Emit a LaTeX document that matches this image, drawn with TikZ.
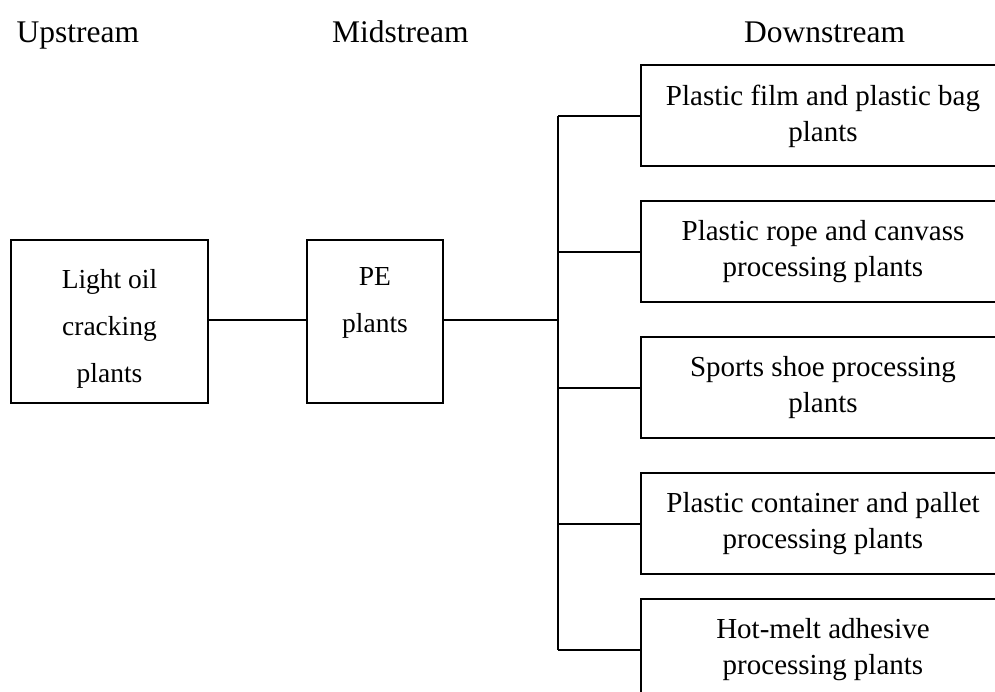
\documentclass[tikz,border=0pt]{standalone}
\usepackage{fontspec}
\setmainfont{Liberation Serif}
\begin{document}
\begin{tikzpicture}[x=1pt,y=-1pt,
  box/.style={draw,line width=2pt,rectangle,inner sep=0pt,align=center},
  leftbox/.style={box,minimum height=163pt},
  lefttext/.style={inner sep=0pt,align=center,font=\fontsize{27.5}{47}\selectfont},
  rightbox/.style={box,minimum width=364pt,minimum height=101pt,font=\fontsize{29}{36}\selectfont},
  head/.style={anchor=base west,font=\fontsize{31.5}{36}\selectfont,inner sep=0pt},
  conn/.style={line width=2pt}]
\path[use as bounding box] (0,0) rectangle (995,692);
\begin{scope}
\clip (0,0) rectangle (995,692);
\node[head] (up) at (16.5,43) {Upstream};
\node[head] (mid) at (332,43) {Midstream};
\node[head] (down) at (744,43) {Downstream};
\node[leftbox,minimum width=197pt] (light) at (109.5,321.5) {};
\node[lefttext] (lighttext) at (109.5,329) {Light oil\\cracking\\plants};
\node[leftbox,minimum width=136pt] (pe) at (375,321.5) {};
\node[lefttext,anchor=north] (petext) at (375,267) {PE\\plants};
\node[rightbox] (d1) at (823,116) {Plastic film and plastic bag\\plants};
\node[rightbox] (d2) at (823,252) {Plastic rope and canvass\\processing plants};
\node[rightbox] (d3) at (823,387.5) {Sports shoe processing\\plants};
\node[rightbox] (d4) at (823,523.5) {Plastic container and pallet\\processing plants};
\node[rightbox] (d5) at (823,649.5) {Hot-melt adhesive\\processing plants};
\coordinate (j) at (558,320);
\draw[line width=1.6pt] (light.east |- j) -- (pe.west |- j);
\draw[line width=2.6pt] (pe.east |- j) -- (j);
\draw[conn] (d1.west -| j) -- (d5.west -| j);
\foreach \n in {d1,d2,d3,d4,d5}{
  \draw[conn] (\n.west -| j) -- (\n.west);
}
\end{scope}
\end{tikzpicture}
\end{document}
